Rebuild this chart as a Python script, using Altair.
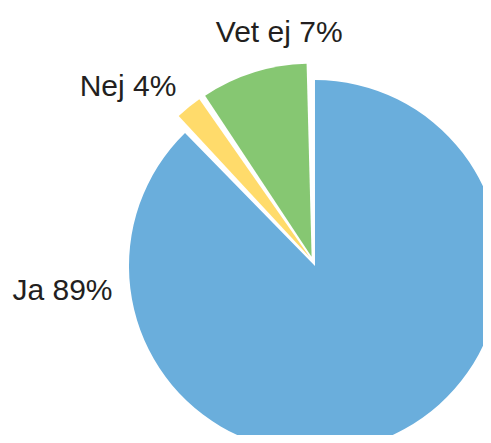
import altair as alt
import pandas as pd

# ---- data ----
categories = ["Ja", "Nej", "Vet ej"]
label_percent = [89, 4, 7]          # percentages printed in the labels
slice_share = [88.1, 2.6, 9.3]      # angular share of each slice as drawn
slice_order = [0, 1, 2]             # clockwise from 12 o'clock

df = pd.DataFrame({
    "category": categories,
    "pct": label_percent,
    "share": slice_share,
    "order": slice_order,
})

# ---- styling ----
colors = ["#6AAEDC", "#FFDB6B", "#86C772"]
CX, CY = 305.1, 253.4      # pie centre in plot pixels
EXPLODE = 5                # explode distance
PAD = 0.026                # pad angle (rad)
FONT = "Liberation Sans"
TEXT_COLOR = "#231F20"

base = (
    alt.Chart(df)
    .transform_joinaggregate(total="sum(share)")
    .transform_window(cum="sum(share)", sort=[alt.SortField("order")], frame=[None, 0])
    .transform_calculate(
        t0=f"(datum.cum - datum.share) / datum.total * 2 * PI - {PAD / 2}",
        t1=f"datum.cum / datum.total * 2 * PI - {PAD / 2}",
    )
    .transform_calculate(mid="(datum.t0 + datum.t1) / 2")
    .transform_calculate(
        cx=f"{CX} + {EXPLODE} * sin(datum.mid)",
        cy=f"{CY} - {EXPLODE} * cos(datum.mid)",
        r="datum.order == 0 ? 186 : 193",
        label="datum.category + ' ' + datum.pct + '%'",
    )
)

pie = base.mark_arc(padAngle=PAD, stroke=None).encode(
    theta=alt.Theta("t0:Q", scale=None),
    theta2="t1:Q",
    radius=alt.Radius("r:Q", scale=None),
    x=alt.X("cx:Q", scale=None),
    y=alt.Y("cy:Q", scale=None),
    color=alt.Color("category:N", scale=alt.Scale(domain=categories, range=colors), legend=None),
)

label_pos = {
    "Ja": dict(x=54.5, y=291.5),
    "Nej": dict(x=120, y=87.7),
    "Vet ej": dict(x=271.2, y=33.7),
}

labels = []
for cat in categories:
    p = label_pos[cat]
    labels.append(
        base.transform_filter(alt.datum.category == cat)
        .mark_text(
            x=p["x"], y=p["y"], align="center", baseline="alphabetic",
            fontSize=30, font=FONT, color=TEXT_COLOR,
        )
        .encode(text="label:N")
    )

chart = (
    alt.layer(pie, *labels)
    .properties(width=475, height=427, autosize="none", padding=0, background="white")
    .configure_view(stroke=None)
)

chart.save("out.html", embed_options={"renderer": "svg", "actions": False})
